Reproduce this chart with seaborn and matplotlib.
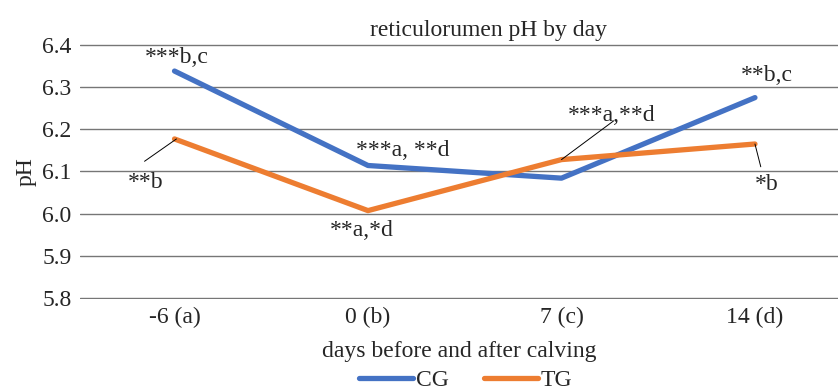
import numpy as np
import pandas as pd
import matplotlib
matplotlib.use('Agg')
import matplotlib.pyplot as plt
import seaborn as sns

# Data
days = ['-6 (a)', '0 (b)', '7 (c)', '14 (d)']
cg_ph = [6.338, 6.114, 6.084, 6.275]
tg_ph = [6.177, 6.007, 6.128, 6.165]
groups = ['CG', 'TG']
cg_notes = ['***b,c', '***a, **d', None, '**b,c']
tg_notes = ['**b', '**a,*d', '***a,**d', '*b']

sns.set_style('white')
plt.rcParams['font.family'] = ['Liberation Serif', 'DejaVu Serif']

df = pd.DataFrame({
    'day': days * 2,
    'pH': cg_ph + tg_ph,
    'group': [groups[0]] * len(days) + [groups[1]] * len(days),
})

fig = plt.figure(figsize=(8.39, 3.9), dpi=100)
ax = fig.add_axes([0.095, 0.234, 0.904, 0.653])
sns.lineplot(data=df, x='day', y='pH', hue='group', sort=False,
             palette={'CG': '#4472c4', 'TG': '#ed7d31'}, linewidth=3.8, ax=ax)

# small padding so the 5.8 and 6.4 grid lines are not clipped at the edge
ax.set_ylim(5.798, 6.402)
ax.set_yticks(np.arange(5.8, 6.41, 0.1))
ax.set_yticklabels(['{:.1f}'.format(v) for v in np.arange(5.8, 6.41, 0.1)])
ax.set_xlim(-0.49, 3.43)
ax.yaxis.grid(True, color='#767676', linewidth=1.0)
ax.set_axisbelow(True)
for s in ax.spines.values():
    s.set_visible(False)
ax.tick_params(axis='both', labelsize=17, length=0, pad=6)
ax.set_xlabel('days before and after calving', fontsize=17, labelpad=9)
ax.set_ylabel('pH', fontsize=17, labelpad=4)

fig.text(0.582, 0.923, 'reticulorumen pH by day', fontsize=17, ha='center', va='center')

# significance labels
fs = 17
ax.text(0.01, 6.369, cg_notes[0], fontsize=fs, ha='center', va='center')
ax.text(1.18, 6.149, cg_notes[1], fontsize=fs, ha='center', va='center')
ax.text(3.06, 6.327, cg_notes[3], fontsize=fs, ha='center', va='center')
arrow = dict(arrowstyle='-', color='black', lw=0.7, shrinkA=0, shrinkB=0)
ax.text(-0.15, 6.073, tg_notes[0], fontsize=fs, ha='center', va='center')
ax.annotate('', xy=(0.01, tg_ph[0]), xytext=(-0.155, 6.124), arrowprops=arrow)
ax.text(0.97, 5.959, tg_notes[1], fontsize=fs, ha='center', va='center')
ax.text(2.26, 6.232, tg_notes[2], fontsize=fs, ha='center', va='center')
ax.annotate('', xy=(2.0, tg_ph[2]), xytext=(2.27, 6.22), arrowprops=arrow)
ax.text(3.06, 6.068, tg_notes[3], fontsize=fs, ha='center', va='center')
ax.annotate('', xy=(3.0, tg_ph[3]), xytext=(3.03, 6.111), arrowprops=arrow)

ax.legend(title=None, loc='center', bbox_to_anchor=(0.509, -0.32), ncol=2, frameon=False,
          fontsize=17, handlelength=2.3, handletextpad=0.1, columnspacing=1.5,
          borderaxespad=0, borderpad=0)

fig.savefig('out.png', dpi=100)
